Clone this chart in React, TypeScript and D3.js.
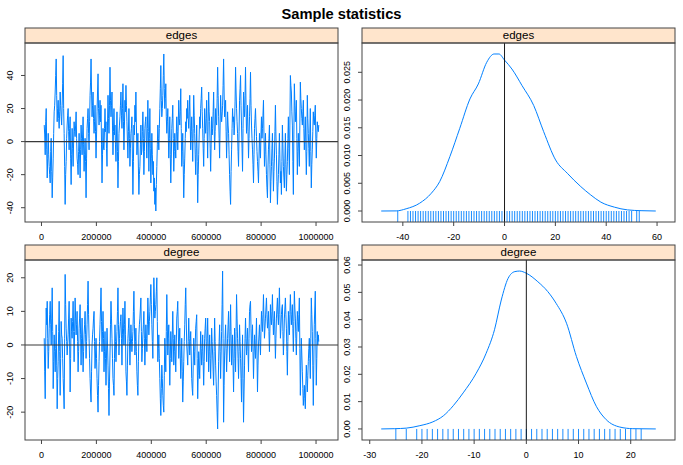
import React from "react";
import * as d3 from "d3";

// ---------- data ----------
const traceStart = 10000;
const traceEnd = 1010000;

const edgesTrace = [
  10, 4, -8, 12, 20, -5, -22, -10, 5, -8, -15, -20, -25, -6, 2, -18, -34, -22, -10, 5, 18, 22, 30, 40,
  50, 28, 12, 20, 25, 14, 8, 18, 30, 22, 15, 10, 22, 35, 52, 20, 5, -15, -38, -20, -12, 2, 10, 16,
  20, 6, -5, 8, 15, -10, -26, -8, 8, -4, -15, 0, 12, 6, 3, 10, 18, 2, -10, -14, -20, -6, 5, -8,
  -22, -5, 10, 2, -8, 4, 15, -2, -18, -8, 2, -12, -34, -10, 8, 14, 20, 5, -5, 12, 28, 36, 50, 30,
  15, 22, 30, 14, 5, 12, 22, 6, -10, 4, 18, 30, 41, 20, 10, 16, 25, 12, 22, -2, -25, -8, 8, -4,
  -5, 8, 20, 6, 12, -4, -15, 10, 28, 14, 5, 22, 45, 25, 15, 22, 30, 10, -8, 6, 20, 4, 10, -2,
  -12, 4, 18, -6, -28, -12, 5, 10, 15, 22, 30, 16, 8, 20, 35, 12, -5, 10, 25, 18, 34, 22, 12, 0,
  -10, 6, 20, 2, -15, -4, 5, 8, 15, -10, -32, -12, 10, 4, 22, 12, 30, 10, -8, -2, 5, -16, -32, -20,
  -15, -2, 10, -8, -5, 6, 18, 2, -20, -6, 8, 12, 15, 0, -10, 8, 25, 6, -18, 2, 20, -4, -25, -10,
  5, -8, -20, -12, -30, -22, -38, -28, -42, -26, -15, -2, 10, 2, -5, 8, 20, 32, 46, 25, 15, 20, 28, 40,
  53, 32, 20, 26, 35, 15, 5, 12, 20, 4, -10, 2, 15, -8, -25, -10, 8, 14, 22, 2, -18, -6, 5, -4,
  -10, 4, 15, 6, -5, 10, 25, 14, 10, 18, 32, 8, -15, -6, 5, -14, -34, -20, -10, 2, 12, 6, 20, 14,
  25, 14, 8, 18, 28, 10, -5, 6, 15, 2, -12, 8, 28, 16, 5, -8, -20, -4, 10, -12, -37, -20, -8, 4,
  15, 8, 20, 26, 33, 18, 8, -4, -15, 2, 20, 10, 5, 14, 25, 6, -10, 12, 30, 18, 12, -4, -18, -2,
  15, 4, 8, 18, 30, 10, -5, 6, 20, 12, 10, 26, 45, 28, 15, 2, -10, 10, 28, 18, 12, 16, 22, 34,
  50, 30, 15, 20, 25, 6, -10, 4, 18, 10, 5, -8, -20, -30, -38, -18, -5, 8, 20, 12, 15, 4, 10, 24,
  45, 30, 20, 12, 5, -6, -15, 6, 25, 32, 40, 22, 10, -4, -18, 8, 30, 20, 15, 28, 45, 22, 5, 12,
  22, 6, -10, 2, 15, 26, 42, 22, 10, 2, -5, -14, -25, -8, 8, 14, 20, 10, 3, -6, -12, -18, -25, -10,
  5, -4, -10, 4, 15, 2, 8, 16, 25, 4, -15, -6, 5, -8, -20, -28, -34, -16, -5, 2, 10, -14, -37, -24,
  -15, -4, 5, -12, -30, -18, -10, 6, 22, 4, -8, -24, -38, -28, -20, -8, 5, -10, -25, -18, -32, -12, 10, -2,
  -15, -22, -28, -10, 5, -14, -30, -20, -12, 2, 15, -4, -20, 10, 40, 34, 30, 18, 10, -12, -32, 4, 35, 22,
  12, 18, 25, 2, -20, -6, 5, -4, -15, 10, 36, 26, 20, 14, 10, 18, 25, 8, -5, 4, 15, -2, -20, -6,
  28, 14, 5, -4, -15, 4, 20, -6, -28, -14, -5, 6, 18, 12, 10, 16, 22, 4, -10, 2, 12, 8, 6, 10,
];

const degreeTrace = [
  2, -8, -16, 0, 11, 6, 13, 2, -7, -2, 5, 9, 13, 6, 0, 8, 17, 4, -13, -5, 3, -2, -8, -1,
  6, -6, -19, -10, -5, 4, 13, -2, -15, -4, 7, 3, 2, -4, -10, -14, -19, 2, 21, 12, 5, 1, -3, 0,
  3, 8, 13, 0, -14, -4, 8, 4, 2, 7, 13, 4, -5, 4, 14, 8, 3, 6, 10, 1, -8, -2, 5, 8,
  12, 3, -6, 2, 8, 0, -8, -2, 3, 6, 10, 3, -4, 1, 6, 12, 19, 9, 2, -4, -10, -14, -17, -8,
  0, 3, 5, 8, 10, 1, -7, -3, 2, -4, -10, -15, -20, -12, -5, 1, 6, 11, 17, 7, -2, 4, 10, 2,
  -8, -2, 4, -4, -12, -3, 5, 0, -6, -13, -21, -11, -3, 6, 13, 8, 2, -4, -10, -12, -15, -4, 6, 1,
  -5, 0, 4, 10, 17, 6, -3, 2, 5, 7, 9, 2, -6, 3, 11, 5, 0, 6, 13, 3, -8, -11, -15, -6,
  2, 5, 8, 1, -6, 0, 6, 2, -2, 1, 4, 10, 16, 6, -3, 1, 5, -2, -8, -12, -15, -5, 3, 6,
  8, 11, 14, 4, -5, -1, 3, 6, 10, 2, -6, 0, 6, 2, -2, 6, 14, 8, 3, 7, 10, 14, 18, 12,
  6, 1, -4, 8, 20, 14, 8, 10, 12, 16, 20, 7, -5, -1, 3, -4, -10, -16, -21, -13, -6, -10, -15, -18,
  -20, -9, 2, -3, -8, 4, 15, 6, -3, 2, 6, -3, -12, -4, 4, 0, -5, 3, 10, 2, -6, -2, 3, -3,
  -8, 0, 8, 10, 13, 5, -4, 1, 5, -3, -10, -4, 2, -8, -17, -11, -5, 1, 6, 12, 17, 8, 0, -3,
  -6, 1, 8, 2, -3, 1, 4, -3, -10, -13, -15, -6, 2, -2, -6, 0, 5, 7, 9, -4, -16, -9, -2, -6,
  -10, -3, 4, -1, -6, -2, 3, -5, -12, -5, 2, 5, 8, 1, -5, 2, 8, 0, -8, -2, 3, -4, -10, -3,
  5, 1, -3, -8, -12, -2, 8, 1, -6, -11, -15, -20, -25, -14, -5, 1, 6, -2, -10, -3, 4, 12, 22, 2,
  -23, -12, -3, 2, 6, -1, -8, -3, 2, 6, 10, 2, -5, 4, 12, 3, -6, -1, 3, -6, -14, -4, 5, -2,
  -8, 4, 15, 8, 2, -4, -10, -2, 6, 1, -4, -10, -17, -6, 3, -10, -23, -14, -6, 2, 8, 2, -3, 1,
  5, -2, -8, 2, 10, 12, 13, 5, -2, 2, 6, -2, -10, -3, 3, -1, -4, 2, 8, -3, -14, -6, 0, 3,
  6, 1, -3, 4, 10, 7, 4, 9, 15, 8, 2, 5, 8, 11, 14, 9, 5, 7, 10, 4, -2, 5, 12, 8,
  6, 10, 15, 8, 3, 7, 10, 3, -4, 2, 8, 11, 14, 9, 6, 11, 17, 9, 2, 5, 9, 11, 12, 4,
  -3, 2, 8, 11, 14, 9, 5, -2, -9, 1, 10, 6, 3, 9, 15, 10, 6, 9, 12, 5, -2, 7, 16, 11,
  8, 2, -3, 4, 10, 7, 4, 9, 14, -1, -15, -6, 2, -3, -8, -13, -18, -15, -12, -16, -19, -12, -6, -10,
  -14, -9, -5, -1, 2, -4, -10, 2, 14, 9, 4, -6, -18, -6, 6, 11, 16, 2, -12, -4, 4, 0, 3, 1,
];

const edgesRug = [
  -42, -38, -37, -36, -35, -34, -33, -32, -31, -30, -29, -28, -27, -26, -25,
  -24, -23, -22, -21, -20, -19, -18, -17, -16, -15, -14, -13, -12, -11, -10,
  -9, -8, -7, -6, -5, -4, -3, -2, -1, 0, 1, 2, 3, 4, 5, 6, 7, 8, 9, 10, 11,
  12, 13, 14, 15, 16, 17, 18, 19, 20, 21, 22, 23, 24, 25, 26, 27, 28, 29, 30,
  31, 32, 33, 34, 35, 36, 37, 38, 39, 40, 41, 42, 43, 44, 45, 46, 47, 48, 49,
  50, 52, 53,
];

const degreeRug = [
  -25, -23, -21, -20, -19, -18, -17, -16, -15, -14, -13, -12, -11, -10, -9,
  -8, -7, -6, -5, -4, -3, -2, -1, 0, 1, 2, 3, 4, 5, 6, 7, 8, 9, 10, 11, 12,
  13, 14, 15, 16, 17, 18, 19, 20, 21, 22,
];

const edgesDensX = [
  -48.5, -42.6, -38.7, -33.4, -28.8, -25.5, -21.5, -17.6, -13.6, -10.3, -7.0,
  -4.1, -2.2, 0, 2.9, 6.9, 11.5, 15.4, 20.1, 24.7, 30.0, 33.9, 37.9, 43.2,
  48.4, 53.7, 59.5,
];
const edgesDensY = [
  0, 0.00002, 0.0004, 0.0014, 0.0032, 0.0053, 0.0098, 0.0149, 0.0202, 0.0229,
  0.0268, 0.0283, 0.0283, 0.0272, 0.0256, 0.0226, 0.019, 0.0143, 0.0092,
  0.0068, 0.0044, 0.0029, 0.0016, 0.0007, 0.0002, 0.00006, 0,
];

const degreeDensX = [
  -27.8, -25.2, -23.0, -20.4, -17.9, -15.9, -14.0, -12.1, -9.6, -7.7, -6.1,
  -4.8, -3.5, -2.2, -1.3, 0, 2.2, 4.1, 5.7, 7.7, 9.6, 11.5, 13.4, 15.3, 17.9,
  20.4, 24.8,
];
const degreeDensY = [
  0, 0.0001, 0.0003, 0.0012, 0.0026, 0.0048, 0.0085, 0.0132, 0.0204, 0.0277,
  0.0363, 0.0472, 0.0551, 0.0576, 0.0578, 0.057, 0.0539, 0.0503, 0.046,
  0.0387, 0.0265, 0.0168, 0.0083, 0.0034, 0.0007, 0.0001, 0,
];

const traceXTicks = [0, 200000, 400000, 600000, 800000, 1000000];
const edgesYTicks = [-40, -20, 0, 20, 40];
const degreeYTicks = [-20, -10, 0, 10, 20];
const edgesDensXTicks = [-40, -20, 0, 20, 40, 60];
const edgesDensYTicks = [0, 0.005, 0.01, 0.015, 0.02, 0.025];
const degreeDensXTicks = [-30, -20, -10, 0, 10, 20];
const degreeDensYTicks = [0, 0.01, 0.02, 0.03, 0.04, 0.05, 0.06];

// ---------- helpers ----------
const W = 683;
const H = 465;
const FONT = "'Liberation Sans', Arial, Helvetica, sans-serif";
const LINE = "#0080ff";
const BOX = "#444";
const STRIP = "#ffe5cc";

function padded(lo: number, hi: number): [number, number] {
  const r = hi - lo;
  return [lo - 0.07 * r, hi + 0.07 * r];
}

type PanelProps = {
  x0: number;
  x1: number;
  stripTop: number;
  top: number;
  bottom: number;
  label: string;
  xScale: d3.ScaleLinear<number, number>;
  yScale: d3.ScaleLinear<number, number>;
  xTicks: number[];
  yTicks: number[];
  yFmt: (v: number) => string;
  children?: React.ReactNode;
};

function Panel(p: PanelProps) {
  const tick = 4;
  return (
    <g>
      <rect x={p.x0} y={p.stripTop} width={p.x1 - p.x0} height={p.top - p.stripTop} fill={STRIP} stroke={BOX} strokeWidth={1} />
      <text x={(p.x0 + p.x1) / 2} y={p.top - 3.8} textAnchor="middle" fontSize={11.5} fontFamily={FONT} fill="#000">
        {p.label}
      </text>
      {p.children}
      <rect x={p.x0} y={p.top} width={p.x1 - p.x0} height={p.bottom - p.top} fill="none" stroke={BOX} strokeWidth={1} />
      {p.xTicks.map((t) => {
        const x = p.xScale(t);
        return (
          <g key={"x" + t}>
            <line x1={x} x2={x} y1={p.bottom} y2={p.bottom + tick} stroke={BOX} strokeWidth={1} />
            <text x={x} y={p.bottom + 17.5} textAnchor="middle" fontSize={9} fontFamily={FONT} fill="#000">
              {String(t)}
            </text>
          </g>
        );
      })}
      {p.yTicks.map((t) => {
        const y = p.yScale(t);
        const tx = p.x0 - 12.5;
        return (
          <g key={"y" + t}>
            <line x1={p.x0 - tick} x2={p.x0} y1={y} y2={y} stroke={BOX} strokeWidth={1} />
            <text transform={`translate(${tx},${y}) rotate(-90)`} textAnchor="middle" fontSize={9} fontFamily={FONT} fill="#000">
              {p.yFmt(t)}
            </text>
          </g>
        );
      })}
    </g>
  );
}

function TracePanel(props: {
  x0: number; x1: number; stripTop: number; top: number; bottom: number;
  label: string; values: number[]; yTicks: number[];
}) {
  const n = props.values.length;
  const step = (traceEnd - traceStart) / (n - 1);
  const pts: [number, number][] = props.values.map((v, i) => [traceStart + i * step, v]);
  const [ylo, yhi] = d3.extent(props.values) as [number, number];
  const xs = d3.scaleLinear().domain(padded(traceStart, traceEnd)).range([props.x0, props.x1]);
  const ys = d3.scaleLinear().domain(padded(ylo, yhi)).range([props.bottom, props.top]);
  const line = d3.line<[number, number]>().x((d) => xs(d[0])).y((d) => ys(d[1]));
  return (
    <Panel x0={props.x0} x1={props.x1} stripTop={props.stripTop} top={props.top} bottom={props.bottom}
      label={props.label} xScale={xs} yScale={ys} xTicks={traceXTicks} yTicks={props.yTicks} yFmt={(v) => String(v)}>
      <path d={line(pts) || ""} fill="none" stroke={LINE} strokeWidth={1} />
      <line x1={props.x0} x2={props.x1} y1={ys(0)} y2={ys(0)} stroke="#3a3a3a" strokeWidth={1.1} />
    </Panel>
  );
}

function DensityPanel(props: {
  x0: number; x1: number; stripTop: number; top: number; bottom: number;
  label: string; dx: number[]; dy: number[]; rug: number[];
  xTicks: number[]; yTicks: number[]; yFmt: (v: number) => string;
}) {
  const xs = d3.scaleLinear().domain(padded(d3.min(props.dx)!, d3.max(props.dx)!)).range([props.x0, props.x1]);
  const ys = d3.scaleLinear().domain(padded(0, d3.max(props.dy)!)).range([props.bottom, props.top]);
  const pts: [number, number][] = props.dx.map((x, i) => [x, props.dy[i]]);
  const line = d3.line<[number, number]>().x((d) => xs(d[0])).y((d) => ys(d[1])).curve(d3.curveMonotoneX);
  const y0 = ys(0);
  return (
    <Panel x0={props.x0} x1={props.x1} stripTop={props.stripTop} top={props.top} bottom={props.bottom}
      label={props.label} xScale={xs} yScale={ys} xTicks={props.xTicks} yTicks={props.yTicks} yFmt={props.yFmt}>
      {props.rug.map((r) => (
        <line key={r} x1={xs(r)} x2={xs(r)} y1={props.bottom} y2={y0} stroke={LINE} strokeWidth={0.9} />
      ))}
      <path d={line(pts) || ""} fill="none" stroke={LINE} strokeWidth={1} />
      <line x1={xs(0)} x2={xs(0)} y1={props.top} y2={props.bottom} stroke="#000" strokeWidth={0.9} />
    </Panel>
  );
}

export default function App() {
  const L0 = 25, L1 = 338, R0 = 362, R1 = 675;
  const row1 = { stripTop: 28, top: 43, bottom: 222 };
  const row2 = { stripTop: 245, top: 260, bottom: 440 };
  return (
    <svg width={W} height={H} viewBox={`0 0 ${W} ${H}`} style={{ position: "absolute", left: 0, top: 0, background: "#fff" }}>
      <rect x={0} y={0} width={W} height={H} fill="#fff" />
      <text x={W / 2} y={18.5} textAnchor="middle" fontSize={14.7} fontWeight="bold" fontFamily={FONT} fill="#000">
        Sample statistics
      </text>
      <TracePanel x0={L0} x1={L1} {...row1} label="edges" values={edgesTrace} yTicks={edgesYTicks} />
      <DensityPanel x0={R0} x1={R1} {...row1} label="edges" dx={edgesDensX} dy={edgesDensY} rug={edgesRug}
        xTicks={edgesDensXTicks} yTicks={edgesDensYTicks} yFmt={d3.format(".3f")} />
      <TracePanel x0={L0} x1={L1} {...row2} label="degree" values={degreeTrace} yTicks={degreeYTicks} />
      <DensityPanel x0={R0} x1={R1} {...row2} label="degree" dx={degreeDensX} dy={degreeDensY} rug={degreeRug}
        xTicks={degreeDensXTicks} yTicks={degreeDensYTicks} yFmt={d3.format(".2f")} />
    </svg>
  );
}
